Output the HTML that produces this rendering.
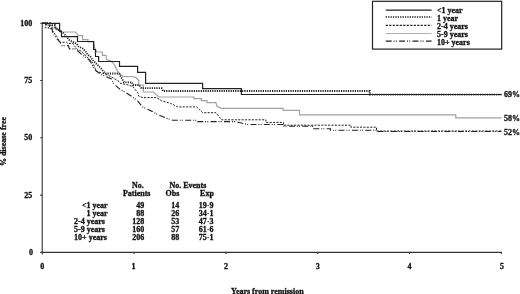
<!DOCTYPE html>
<html><head><meta charset="utf-8">
<style>
html,body{margin:0;padding:0;background:#fff;}
body{width:520px;height:294px;overflow:hidden;}
svg{display:block;}
text{font-family:"Liberation Serif",serif;font-weight:bold;font-size:8px;fill:#111;stroke:#111;stroke-width:0.3px;}
.ax{stroke:#333;stroke-width:1.1;fill:none;}
.c{fill:none;stroke-linejoin:miter;}
</style></head><body>
<svg width="520" height="294" viewBox="0 0 520 294">
<rect width="520" height="294" fill="#fff"/>
<!-- axes -->
<path class="ax" d="M42.2,22.8 V254.5 M40.2,252.4 H501.9"/>
<path class="ax" d="M40.2,23.2 H42.2 M40.2,80.5 H42.2 M40.2,137.8 H42.2 M40.2,195.1 H42.2"/>
<path class="ax" d="M134,252.4 V254.1 M225.9,252.4 V254.1 M317.7,252.4 V254.1 M409.6,252.4 V254.1 M501.4,252.4 V254.1"/>
<!-- y labels -->
<g text-anchor="end">
<text x="32.3" y="25.8">100</text>
<text x="32.3" y="83.1">75</text>
<text x="32.3" y="140.4">50</text>
<text x="32.3" y="197.7">25</text>
<text x="33" y="254.8">0</text>
</g>
<g text-anchor="middle">
<text x="42.2" y="268.5">0</text>
<text x="133.6" y="268.5">1</text>
<text x="225.9" y="268.5">2</text>
<text x="317.8" y="268.5">3</text>
<text x="409.6" y="268.5">4</text>
<text x="502" y="268.5">5</text>
<text x="267.3" y="293.5">Years from remission</text>
<text transform="translate(6.3,141.5) rotate(-90)">% disease free</text>
</g>
<!-- curves -->
<path class="c" id="g59" stroke="#a2a2a2" stroke-width="1.2" d="M42.2,23.2 H47 V25.5 H52 V28 H57 V30 H60 V32 H75.4 L78.4,35.7 H82.5 V39.7 H88 V42 H93.5 L94.8,48.4 L96.8,52 H102.4 V55.3 H106 L106.4,59.5 L110.8,60.8 L113.3,63.3 L115.2,66.4 L117.7,71.5 L120.2,74 L122.7,76.5 H132 L136.3,77.6 L138.8,80.8 V85 H143.3 V92 H153.4 L159,97 H193.9 V98.6 H201.4 V100.7 H207 V102.6 H215.9 L217,106.4 L221.6,108.3 H283.2 V110.3 H299.5 V114.8 H455.8 V117.8 H501.5"/>
<path class="c" id="d24" stroke="#222" stroke-width="1" stroke-dasharray="2.1 1.3" d="M42.2,23.2 H45.4 V27.8 H49 V28.8 H52.5 V30.5 L56.5,36 L58.5,40 L60.2,42.3 H66.5 L68,43.5 H73 L74,45.5 L77.5,49.4 L81.6,51.4 L84.7,54.5 L89,59 L92.6,62.6 L96.4,71.4 L105.2,74 L111.5,77 L119,81.5 L120,83.1 L128,85 L132.6,86.3 L137.6,92.6 L138.9,96.4 L143,97.6 H156.5 L161.6,100.8 L170.4,103.3 L177.7,106.9 H196.5 L202.8,112.7 H215.9 L221.6,119.8 H265.9 V122.4 H283.4 V125.2 H350.9 V127.2 H376.5 V131 H501.5"/>
<path class="c" id="dd10" stroke="#222" stroke-width="1.1" stroke-dasharray="6 1.9 1 1.2 1 2.3" d="M42.2,23.2 H46.5 V24.8 H49.5 V28 H52 L52.5,31.5 L54,35 L57,39 L60,42.2 L62,45.6 H68.4 L69.4,48.9 H75.5 L80.6,53.5 L84.7,56.5 L88.8,59.6 L92,63.9 L93.9,68.9 L100,74 L111.5,79 L114,84 L120,89.4 L125.7,92.6 L132.6,97 L137.6,100.8 L142.7,107.1 L150.2,110.4 L157.6,114.5 L166.4,118.3 L172.7,120.2 H197.9 V121.6 H235.6 L247.7,124.5 H284 V126.2 H312.7 V128.7 H330.4 V130.2 H376 V131.5 H501.5"/>
<path class="c" id="dt1" stroke="#222" stroke-width="1.8" stroke-dasharray="1.2 1.1" d="M42.2,23.2 H49.8 V25.2 H55 V28.5 H57.5 V30.2 H60.5 V32.2 H62.5 L65.5,35.3 L69.3,40 L72,41.5 L76.4,43.5 L78.4,46.4 L82.5,48.4 L85.6,51.5 L87.6,54.5 L90.7,57 L92.6,60 L101.4,68.9 L105.2,73.5 H119 L124,82.3 H132 L133,85 H139 L141.4,88.2 H161.6 L163,91 H369.7 V94.6 H501.5"/>
<path class="c" id="s1" stroke="#222" stroke-width="1.2" d="M42.2,23.4 H59.6 V31.3 H61.5 V36.6 H77.5 V41.5 H93.6 V49.5 H95.5 V56.5 H98.6 V61.5 H119.5 V66.4 H137.6 V72.4 H145.6 V83.4 H202.6 V88.7 H241.4 V94.5 H501.5"/>
<!-- end labels -->
<text x="504" y="97">69%</text>
<text x="504" y="120.5">58%</text>
<text x="504" y="135.3">52%</text>
<!-- legend -->
<rect x="372.5" y="1.3" width="129.2" height="47.8" fill="#fff" stroke="#222" stroke-width="1.2"/>
<path class="c" stroke="#222" stroke-width="1.3" d="M385.7,10.1 H431.6"/>
<path class="c" stroke="#222" stroke-width="1.6" stroke-dasharray="1.3 1.1" d="M385.7,17 H431.6"/>
<path class="c" stroke="#222" stroke-width="1.3" stroke-dasharray="2.2 1.3" d="M385.7,25.3 H431.6"/>
<path class="c" stroke="#b0b0b0" stroke-width="1.2" d="M385.7,33.5 H431.6"/>
<path class="c" stroke="#222" stroke-width="1.3" stroke-dasharray="6 1.9 1 1.2 1 2.3" d="M385.7,41.1 H431.6"/>
<text x="437" y="12.7">&lt;1 year</text>
<text x="437" y="20.7">1 year</text>
<text x="437" y="28.7">2-4 years</text>
<text x="437" y="36.7">5-9 years</text>
<text x="437" y="44.7">10+ years</text>
<!-- table -->
<text x="132" y="187.8">No.</text>
<text x="122.9" y="196.2">Patients</text>
<text x="169.4" y="187.8">No. Events</text>
<text x="165.5" y="196.2">Obs</text>
<text x="200.1" y="196.2">Exp</text>
<g text-anchor="end">
<text x="107.6" y="207.8">&lt;1 year</text>
<text x="107.6" y="215.8">1 year</text>
</g>
<text x="74.1" y="223.7">2-4 years</text>
<text x="74.1" y="231.6">5-9 years</text>
<text x="74.1" y="239.5">10+ years</text>
<g text-anchor="end">
<text x="144.3" y="207.8">49</text>
<text x="144.3" y="215.8">88</text>
<text x="144.3" y="223.7">128</text>
<text x="144.3" y="231.6">160</text>
<text x="144.3" y="239.5">206</text>
<text x="179.2" y="207.8">14</text>
<text x="179.2" y="215.8">26</text>
<text x="179.2" y="223.7">53</text>
<text x="179.2" y="231.6">57</text>
<text x="179.2" y="239.5">88</text>
<text x="213.5" y="207.8">19<tspan stroke="none">·</tspan>9</text>
<text x="213.5" y="215.8">34<tspan stroke="none">·</tspan>1</text>
<text x="213.5" y="223.7">47<tspan stroke="none">·</tspan>3</text>
<text x="213.5" y="231.6">61<tspan stroke="none">·</tspan>6</text>
<text x="213.5" y="239.5">75<tspan stroke="none">·</tspan>1</text>
</g>
</svg>
</body></html>
